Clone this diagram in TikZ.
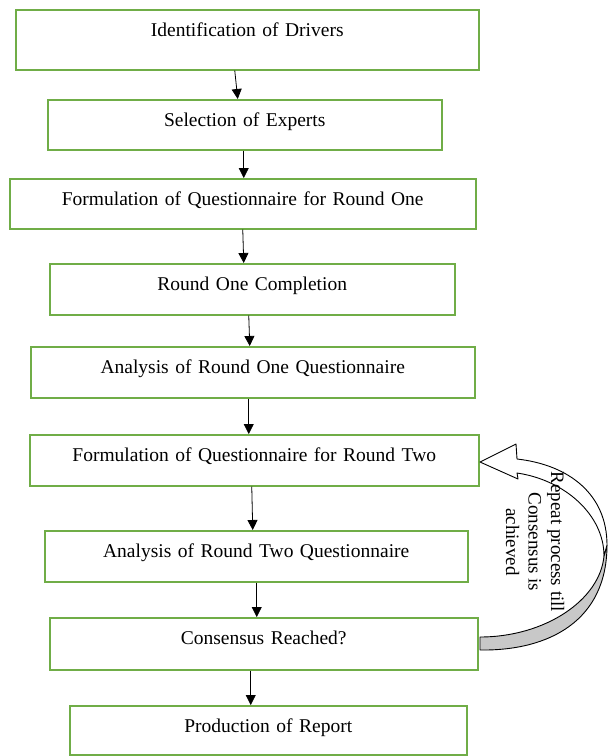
\documentclass[tikz,border=0pt]{standalone}
\usepackage{fontspec}
\setmainfont{Liberation Serif}
\usetikzlibrary{arrows.meta}

\definecolor{stagegreen}{HTML}{70AD47}
\definecolor{backgray}{HTML}{C8C8C8}

\begin{document}
\begin{tikzpicture}[
    x=1pt, y=-1pt,
    stage/.style={draw=stagegreen, line width=1.5pt, inner sep=0pt,
      anchor=north west, align=center, text height=27pt,
      font=\fontsize{19.5}{23}\selectfont},
    flow/.style={draw, line width=0.8pt, -{Triangle[width=10pt,length=10pt]}},
    loopnote/.style={rotate=-90, align=center, inner sep=0pt,
      font=\fontsize{19}{22.5}\selectfont}
]
\useasboundingbox (0,0) rectangle (608,756);

\node[stage, text width=463pt, text depth=33pt] (drv) at (15,9) {Identification of Drivers};
\node[stage, text width=394pt, text depth=23pt] (exp) at (47,99) {Selection of Experts};
\node[stage, text width=466pt, text depth=23pt] (qr1) at (9,178) {Formulation of Questionnaire for Round One};
\node[stage, text width=405pt, text depth=24pt] (rc1) at (49,263) {Round One Completion};
\node[stage, text width=444pt, text depth=24pt] (an1) at (30,346) {Analysis of Round One Questionnaire};
\node[stage, text width=449pt, text depth=24pt] (qr2) at (29,434) {Formulation of Questionnaire for Round Two};
\node[stage, text width=423pt, text depth=24pt] (an2) at (44,530) {Analysis of Round Two Questionnaire};
\node[stage, text width=428pt, text depth=25pt] (cns) at (49,617) {Consensus Reached?};
\node[stage, text width=397pt, text depth=22pt] (rep) at (69,705) {Production of Report};

\draw[flow] ([xshift=-12.5pt]drv.south) -- ([xshift=-7pt]exp.north);
\draw[flow] ([xshift=-1pt]exp.south) -- ([xshift=1pt]qr1.north);
\draw[flow] (qr1.south) -- ([xshift=-8.5pt]rc1.north);
\draw[flow] ([xshift=-3.5pt]rc1.south) -- ([xshift=-3pt]an1.north);
\draw[flow] ([xshift=-4pt]an1.south) -- ([xshift=-5.5pt]qr2.north);
\draw[flow] ([xshift=-2.5pt]qr2.south) -- ([xshift=-3.5pt]an2.north);
\draw[flow] ([xshift=0.5pt]an2.south) -- ([xshift=-7pt]cns.north);
\draw[flow] ([xshift=-13pt]cns.south) -- ([xshift=-17.5pt]rep.north);

% repeat loop back to round two
\filldraw[fill=backgray, line width=0.9pt, line join=round]
  (607,545) .. controls (607,620) and (550,651) .. (480,650)
  -- (480,637) .. controls (545,637) and (600,600) .. (604,556) -- cycle;
\filldraw[fill=white, line width=0.9pt, line join=round]
  (517,459) .. controls (570,465) and (607,495) .. (607,545)
  -- (604,556) .. controls (604,515) and (565,480) .. (517,473)
  -- (518,479) -- (480,462) -- (516,444) -- cycle;
\node[loopnote] (note) at (535,542) {Repeat process till\\Consensus is\\achieved};
\end{tikzpicture}
\end{document}
